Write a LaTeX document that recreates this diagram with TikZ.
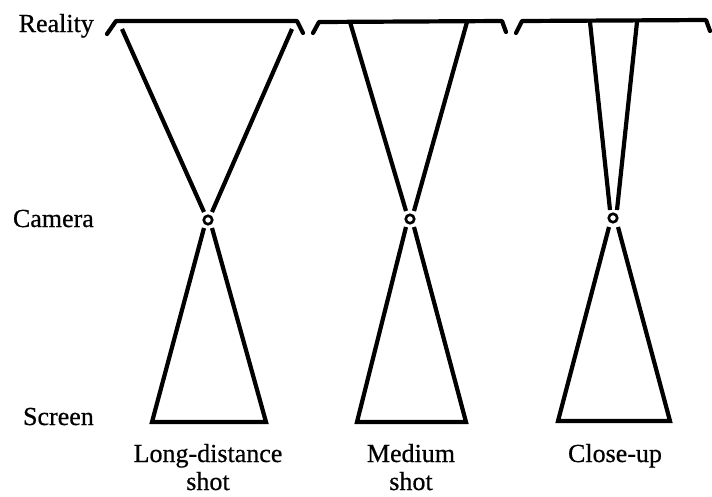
\documentclass[tikz,border=0pt]{standalone}
\usepackage{fontspec}
\setmainfont[FakeBold=0.6]{Liberation Serif}
\begin{document}
\begin{tikzpicture}[x=1pt,y=-1pt,
  ray/.style={line width=4.2pt,line cap=butt},
  bar/.style={line width=4.2pt,line join=round,line cap=round},
  lens/.style={draw,circle,line width=2.6pt,minimum size=8.5pt,inner sep=0pt},
  lab/.style={font=\fontsize{26}{28}\selectfont,inner sep=0pt},
  shotlabel/.style={font=\fontsize{26}{28}\selectfont,inner sep=0pt,anchor=base,align=center}]
\useasboundingbox (0,0) rectangle (712,496);
% row labels
\node[lab,anchor=base east] (reality) at (94,32) {Reality};
\node[lab,anchor=base east] (camera) at (94,227) {Camera};
\node[lab,anchor=base east] (screen) at (94,425) {Screen};
% ---------- panel 1
\coordinate (a1) at (107,34); \coordinate (b1) at (116,21);
\coordinate (c1) at (297,21); \coordinate (d1) at (303,33);
\draw[bar] (a1) -- (b1) -- (c1) -- (d1);
\node[lens] (cam1) at (208,220) {};
\coordinate (u1l) at (122,29); \coordinate (u1r) at (292,29);
\coordinate (m1l) at (204,212); \coordinate (m1r) at (212,212);
\coordinate (n1l) at (204,228); \coordinate (n1r) at (212,228);
\coordinate (s1l) at (152,422); \coordinate (s1r) at (266,422);
\draw[ray] (u1l) -- (m1l);
\draw[ray] (u1r) -- (m1r);
\draw[ray,line join=miter] (n1l) -- (s1l) -- (s1r) -- (n1r);
\node[shotlabel] (lab1) at (208,490) {Long-distance\\shot};
% ---------- panel 2
\coordinate (a2) at (313,33); \coordinate (b2) at (319,22);
\coordinate (c2) at (502,21); \coordinate (d2) at (506,32);
\draw[bar] (a2) -- (b2) -- (c2) -- (d2);
\node[lens] (cam2) at (410,219) {};
\coordinate (u2l) at (350,22); \coordinate (u2r) at (467,22);
\coordinate (m2l) at (406,211); \coordinate (m2r) at (414,211);
\coordinate (n2l) at (406,227); \coordinate (n2r) at (414,227);
\coordinate (s2l) at (357,422); \coordinate (s2r) at (466,422);
\draw[ray] (u2l) -- (m2l);
\draw[ray] (u2r) -- (m2r);
\draw[ray,line join=miter] (n2l) -- (s2l) -- (s2r) -- (n2r);
\node[shotlabel] (lab2) at (411,490) {Medium\\shot};
% ---------- panel 3
\coordinate (a3) at (516,33); \coordinate (b3) at (522,21);
\coordinate (c3) at (706,20); \coordinate (d3) at (710,31);
\draw[bar] (a3) -- (b3) -- (c3) -- (d3);
\node[lens] (cam3) at (613,218) {};
\coordinate (u3l) at (590,22); \coordinate (u3r) at (637,22);
\coordinate (m3l) at (610,210); \coordinate (m3r) at (617,210);
\coordinate (n3l) at (609,227); \coordinate (n3r) at (618,227);
\coordinate (s3l) at (558,421); \coordinate (s3r) at (670,421);
\draw[ray] (u3l) -- (m3l);
\draw[ray] (u3r) -- (m3r);
\draw[ray,line join=miter] (n3l) -- (s3l) -- (s3r) -- (n3r);
\node[shotlabel] (lab3) at (615,462) {Close-up};
\end{tikzpicture}
\end{document}
